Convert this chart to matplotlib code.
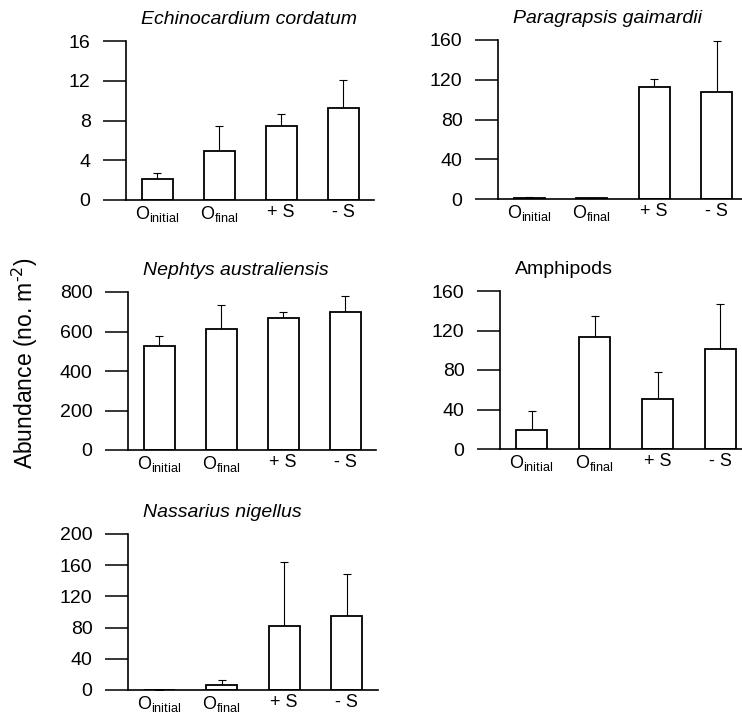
import numpy as np
import matplotlib
matplotlib.use('Agg')
import matplotlib.pyplot as plt

plt.rcParams['font.family'] = ['Liberation Sans', 'DejaVu Sans']
plt.rcParams['mathtext.default'] = 'regular'

# данные
categories = ['O$_{initial}$', 'O$_{final}$', '+ S', '- S']

echino_mean = [2.15, 4.97, 7.49, 9.27]
echino_se = [0.6, 2.49, 1.18, 2.83]
para_mean = [1.5, 1.0, 112.7, 107.6]
para_se = [0.6, 0.5, 8.3, 51.4]
nephtys_mean = [526, 614, 666, 700]
nephtys_se = [49, 120, 31, 80]
amph_mean = [19.5, 113.6, 50.8, 101.5]
amph_se = [18.5, 21.4, 27.2, 45.1]
nass_mean = [0, 6, 81.7, 94.5]
nass_se = [0, 6.8, 82.3, 54.5]

W, H = 742, 715
fig = plt.figure(figsize=(W / 100, H / 100), dpi=100)

# (x0, x1, y_top, y_bottom) в пикселях, заголовок, italic, данные, ось y
panels = [
    ((126, 374, 41, 200), 'Echinocardium cordatum', True, echino_mean, echino_se, [0, 4, 8, 12, 16]),
    ((498, 748, 40, 199), 'Paragrapsis gaimardii', True, para_mean, para_se, [0, 40, 80, 120, 160]),
    ((128, 376, 292, 450), 'Nephtys australiensis', True, nephtys_mean, nephtys_se, [0, 200, 400, 600, 800]),
    ((500, 752, 291, 449), 'Amphipods', False, amph_mean, amph_se, [0, 40, 80, 120, 160]),
    ((128, 378, 534, 690), 'Nassarius nigellus', True, nass_mean, nass_se, [0, 40, 80, 120, 160, 200]),
]

for (x0, x1, yt, yb), title, ital, mean, se, yt_list in panels:
    ax = fig.add_axes([x0 / W, 1 - yb / H, (x1 - x0) / W, (yb - yt) / H])
    x = np.arange(len(categories))
    ax.bar(x, mean, width=0.5, color='white', edgecolor='black', linewidth=1.3, zorder=2)
    ax.errorbar(x, mean, yerr=[np.zeros(len(se)), se], fmt='none', ecolor='black',
                elinewidth=0.8, capsize=3.2, capthick=0.8, zorder=1)
    ax.set_xlim(-0.5, 3.5)
    ax.set_ylim(0, yt_list[-1])
    ax.set_yticks(yt_list)
    ax.set_xticks(x)
    ax.set_xticklabels(categories, fontsize=13)
    ax.tick_params(axis='y', direction='out', length=16.5, width=1.1, pad=9, labelsize=14)
    ax.tick_params(axis='x', length=0, pad=3)
    for s in ['top', 'right']:
        ax.spines[s].set_visible(False)
    for s in ['left', 'bottom']:
        ax.spines[s].set_linewidth(1.2)
    ax.annotate(title, xy=(0, 1), xycoords='axes fraction', xytext=(11, 12),
                textcoords='offset points', ha='left', va='baseline', fontsize=14,
                style='italic' if ital else 'normal')

fig.text(25 / W, 1 - 363 / H, 'Abundance (no. m$^{\\text{-2}}$)', rotation=90,
         ha='center', va='center', fontsize=16.5)

fig.savefig('out.png', dpi=100)
